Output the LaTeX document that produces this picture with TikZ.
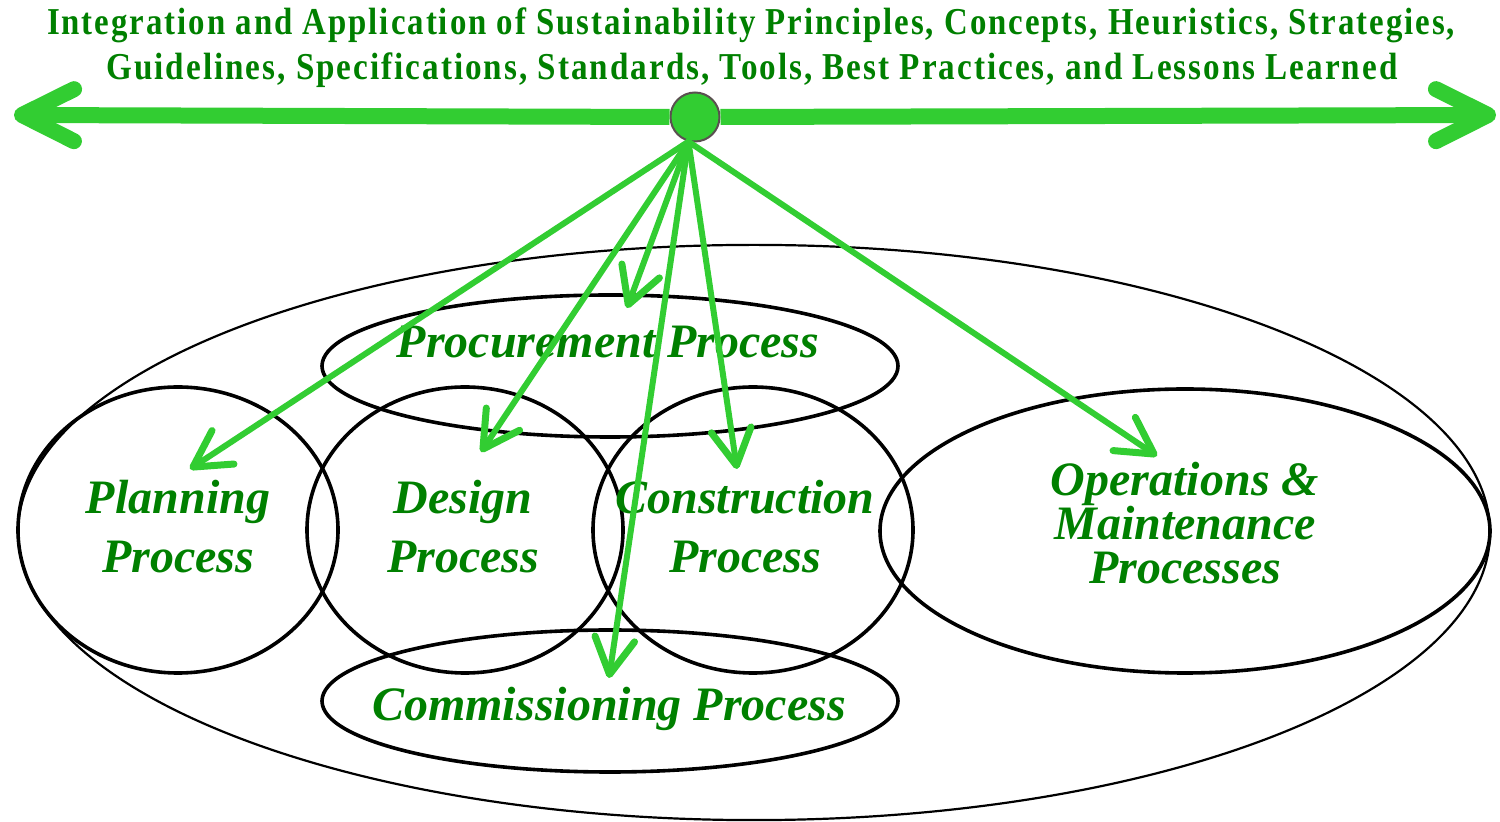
\documentclass[tikz,border=0pt]{standalone}
\usepackage{fontspec}
\usepackage{graphicx}
\setmainfont{Liberation Serif}
\newfontfamily\topfont[LetterSpace=6]{Liberation Serif}
\usetikzlibrary{arrows.meta}
\definecolor{lime}{RGB}{50,205,50}
\definecolor{dgreen}{RGB}{0,128,0}
\definecolor{hubedge}{RGB}{90,80,80}
\tikzset{
  procline/.style={draw=black, line width=1.8pt},
  outerline/.style={draw=black, line width=1.1pt},
  lbl/.style={text=dgreen, font=\bfseries\itshape\fontsize{24}{29.5}\selectfont, align=center, inner sep=0pt},
  feed/.style={draw=lime, line width=3pt, line cap=round,
    -{Straight Barb[length=18pt, width=20pt, line width=3.5pt, round]}},
  bigarrow/.style={draw=lime, line width=8pt,
    -{Straight Barb[length=26pt, width=26pt, line width=8pt, round]}},
  toptext/.style={text=dgreen, anchor=base, inner sep=0pt},
}
\begin{document}
\begin{tikzpicture}[x=0.5pt,y=-0.5pt]
\useasboundingbox (0,0) rectangle (1500,822);

% ellipses
\draw[outerline] (754,532.5) ellipse [x radius=368pt, y radius=143.8pt];
\draw[procline] (610,366) ellipse [x radius=144pt, y radius=35.5pt];
\draw[procline] (610,701) ellipse [x radius=144pt, y radius=35.5pt];
\draw[procline] (178,530) ellipse [x radius=80pt, y radius=71.5pt];
\draw[procline] (465,530) ellipse [x radius=79pt, y radius=71.5pt];
\draw[procline] (753,530) ellipse [x radius=80pt, y radius=71.5pt];
\draw[procline] (1185,531) ellipse [x radius=152.5pt, y radius=71pt];

% labels
\node[lbl] (lplan) at (178,527) {Planning\\Process};
\node[lbl] (ldes) at (463,527) {Design\\Process};
\node[lbl] (lcon) at (745,527) {Construction\\Process};
\node[lbl, font=\bfseries\itshape\fontsize{24}{22}\selectfont] (lops) at (1185,523) {Operations \&\\Maintenance\\Processes};
\node[lbl] (lproc) at (608,342) {Procurement Process};
\node[lbl] (lcom) at (609,709) {Commissioning Process};

% top text
\node[toptext] (t1) at (751,35) {\resizebox{704pt}{\height}{\topfont\bfseries\fontsize{19}{19}\selectfont Integration and Application of Sustainability Principles, Concepts, Heuristics, Strategies,}};
\node[toptext] (t2) at (752,80) {\resizebox{645.5pt}{\height}{\topfont\bfseries\fontsize{19}{19}\selectfont Guidelines, Specifications, Standards, Tools, Best Practices, and Lessons Learned}};

% hub
\node[circle, fill=lime, draw=hubedge, line width=1pt, minimum size=24.5pt, inner sep=0pt] (hub) at (695,117) {};

% end points
\coordinate (L) at (14,115);
\coordinate (R) at (1496,115);
\coordinate (pPlan) at (190,469);
\coordinate (pProc) at (627,308);
\coordinate (pDes) at (481,452);
\coordinate (pCom) at (609,678);
\coordinate (pCon) at (737,469);
\coordinate (pOps) at (1157,456);

% connectors
\draw[bigarrow] (hub.west) -- (L);
\draw[bigarrow] (hub.east) -- (R);
\draw[feed] (hub.-105) -- (pPlan);
\draw[feed] (hub.-105) -- (pProc);
\draw[feed] (hub.-105) -- (pDes);
\draw[feed] (hub.-105) -- (pCom);
\draw[feed] (hub.-105) -- (pCon);
\draw[feed] (hub.-105) -- (pOps);
\end{tikzpicture}
\end{document}
